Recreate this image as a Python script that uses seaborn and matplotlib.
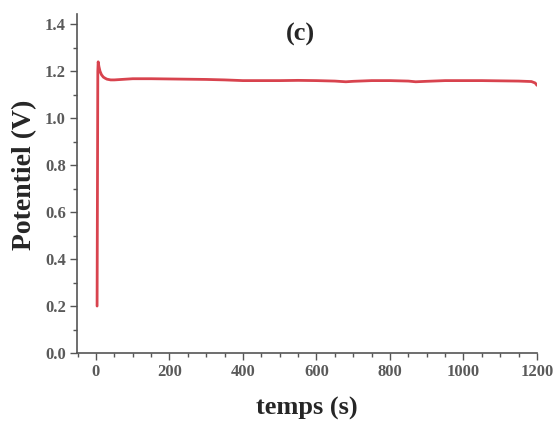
import numpy as np
import pandas as pd
import matplotlib.pyplot as plt
import seaborn as sns
from matplotlib.ticker import MultipleLocator

# chronopotentiométrie (c)
temps = [3, 4, 5, 6, 8, 11, 15, 20, 25, 30, 40, 50, 70, 100, 150, 200, 250, 300,
         350, 400, 450, 500, 550, 600, 650, 680, 700, 750, 800, 850, 870, 900,
         950, 1000, 1050, 1100, 1150, 1185, 1195, 1200]
potentiel = [0.20, 0.70, 1.20, 1.24, 1.22, 1.20, 1.185, 1.175, 1.17, 1.166, 1.163,
             1.163, 1.165, 1.168, 1.168, 1.167, 1.166, 1.165, 1.163, 1.160, 1.160,
             1.160, 1.161, 1.160, 1.158, 1.155, 1.157, 1.160, 1.160, 1.158, 1.155,
             1.157, 1.160, 1.160, 1.160, 1.159, 1.158, 1.156, 1.150, 1.140]

df = pd.DataFrame({'temps': temps, 'potentiel': potentiel})

sns.set_style('ticks')
plt.rcParams['font.family'] = ['Liberation Serif', 'DejaVu Serif']

fig = plt.figure(figsize=(5.53, 4.21), dpi=100)
ax = fig.add_axes([0.139, 0.1615, 0.832, 0.806])

sns.lineplot(data=df, x='temps', y='potentiel', ax=ax, color='#d8434e',
             linewidth=2.0, estimator=None, sort=False)

ax.set_xlim(-52, 1200)
ax.set_ylim(0, 1.445)
ax.xaxis.set_major_locator(MultipleLocator(200))
ax.xaxis.set_minor_locator(MultipleLocator(50))
ax.yaxis.set_major_locator(MultipleLocator(0.2))
ax.yaxis.set_minor_locator(MultipleLocator(0.1))
ax.yaxis.set_major_formatter(plt.FuncFormatter(lambda v, p: f'{v:.1f}'))

ax.tick_params(which='major', direction='out', length=5, width=1, colors='#555555',
               labelsize=12, labelcolor='#5a5a5a', pad=3)
ax.tick_params(which='minor', direction='out', length=3, width=1, colors='#555555')
for lab in ax.get_xticklabels() + ax.get_yticklabels():
    lab.set_fontweight('bold')

sns.despine(ax=ax)
for s in ['left', 'bottom']:
    ax.spines[s].set_color('#555555')
    ax.spines[s].set_linewidth(1.2)

ax.set_xlabel('temps (s)', fontsize=19, fontweight='bold')
ax.set_ylabel('Potentiel (V)', fontsize=20, fontweight='bold')
ax.xaxis.set_label_coords(0.5, -0.13)
ax.yaxis.set_label_coords(-0.087, 0.525)
ax.text(0.487, 0.938, '(c)', transform=ax.transAxes, ha='center', va='center',
        fontsize=19, fontweight='bold')

fig.savefig('out.png', dpi=100)
